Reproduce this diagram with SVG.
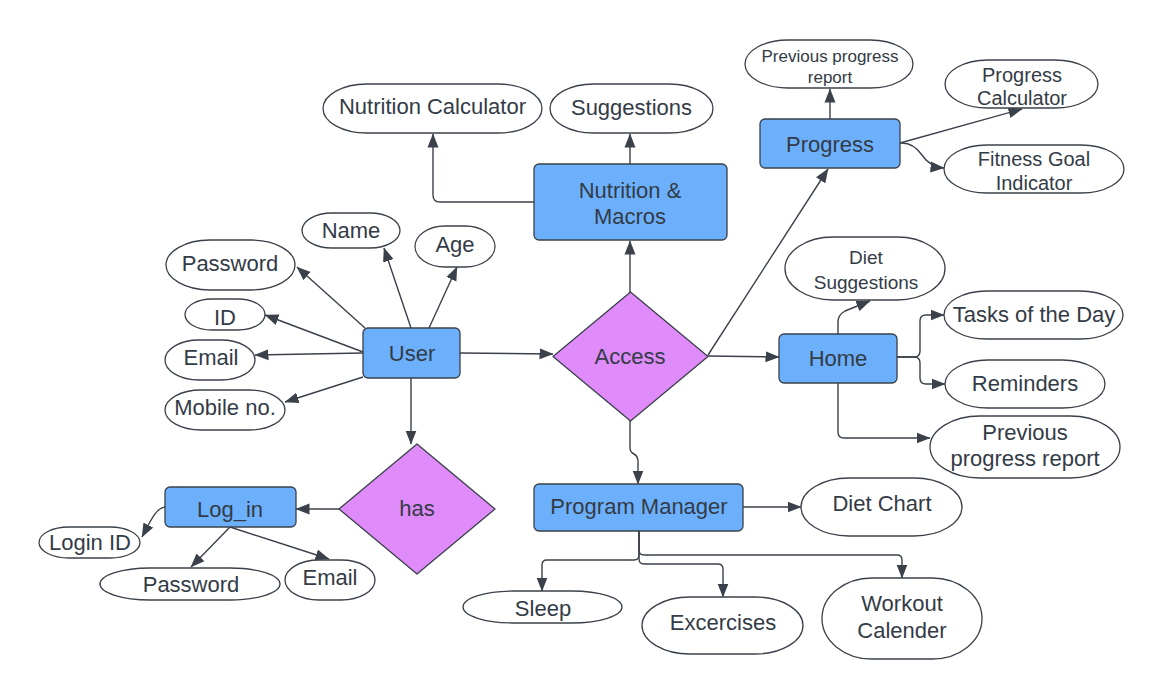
<svg xmlns="http://www.w3.org/2000/svg" width="1165" height="699" viewBox="0 0 1165 699">
<style>
text{font-family:"Liberation Sans",Arial,sans-serif;fill:#333b46;text-anchor:middle;font-size:22px}
.s{font-size:19px}.xs{font-size:17px}.m{font-size:20px}
.box{fill:#6cb0fc;stroke:#3a414a;stroke-width:1.3}
.dia{fill:#df8bf9;stroke:#3a414a;stroke-width:1.3;stroke-linejoin:round}
.ell{fill:#fff;stroke:#3a414a;stroke-width:1.3}
.c path{fill:none;stroke:#3a414a;stroke-width:1.4;marker-end:url(#a)}
</style>
<defs>
<marker id="a" viewBox="0 0 14 12" refX="13.5" refY="6" markerWidth="14" markerHeight="12" markerUnits="userSpaceOnUse" orient="auto">
<path d="M0,0.5 L14,6 L0,11.5 z" fill="#3a414a"/>
</marker>
</defs>
<rect width="1165" height="699" fill="#fff"/>
<g class="c" id="connectors">
<path d="M534,202 H440 Q433,202 433,195 V134"/>
<path d="M630,164 V134"/>
<path d="M630,292 V241"/>
<path d="M708,355 L828,169"/>
<path d="M830,119 V89"/>
<path d="M900,143 L1022,109"/>
<path d="M900,143 Q913,142 922,155 Q930,167 944,168"/>
<path d="M365,328 L297,267"/>
<path d="M411,328 L384,248"/>
<path d="M429,328 L457,267"/>
<path d="M363,352 L265,315"/>
<path d="M363,353 L255,355"/>
<path d="M363,377 L285,402"/>
<path d="M460,353 L553,354"/>
<path d="M411,378 V444"/>
<path d="M339,509 H296"/>
<path d="M165,507 C156,508 151,520 142,537"/>
<path d="M230,527 L191,567"/>
<path d="M230,527 L329,559"/>
<path d="M708,356 L779,357"/>
<path d="M838,334 V322 Q838,315 845,311 L870,301"/>
<path d="M897,357 H914 Q920,357 920,351 V321 Q920,315 926,315 H944"/>
<path d="M897,357 H914 Q920,357 920,363 V378 Q920,384 926,384 H945"/>
<path d="M838,383 V432 Q838,438 844,438 H930"/>
<path d="M630,421 V448 Q630,452 634,454 Q638,456 638,462 V484"/>
<path d="M743,507 H801"/>
<path d="M639,531 V555 Q639,560 634,560 H547 Q542,560 542,565 V591"/>
<path d="M639,531 V559 Q639,564 644,564 H718 Q723,564 723,569 V597"/>
<path d="M639,531 V550 Q639,555 644,555 H897 Q902,555 902,560 V578"/>
</g>
<g id="nutrition-calculator"><rect class="ell" x="323" y="84" width="219" height="49" rx="44" ry="24.5"/><text x="432.5" y="114">Nutrition Calculator</text></g>
<g id="suggestions"><rect class="ell" x="550" y="84" width="163" height="49" rx="44" ry="24.5"/><text x="631.5" y="115">Suggestions</text></g>
<g id="nutrition-macros"><rect class="box" x="534" y="164" width="193" height="76" rx="5"/><text x="630" y="198">Nutrition &amp;</text><text x="630" y="224">Macros</text></g>
<g id="previous-progress-top"><rect class="ell" x="745" y="40" width="168" height="48" rx="43" ry="24"/><text class="xs" x="830" y="62">Previous progress</text><text class="xs" x="830" y="83">report</text></g>
<g id="progress"><rect class="box" x="760" y="119" width="140" height="49" rx="5"/><text x="830" y="152">Progress</text></g>
<g id="progress-calculator"><rect class="ell" x="945" y="60" width="153" height="48" rx="43" ry="24"/><text class="m" x="1022" y="82">Progress</text><text class="m" x="1022" y="105">Calculator</text></g>
<g id="fitness-goal"><rect class="ell" x="944" y="145" width="180" height="48" rx="43" ry="24"/><text class="m" x="1034" y="166">Fitness Goal</text><text class="m" x="1034" y="190">Indicator</text></g>
<g id="name"><rect class="ell" x="302" y="213" width="98" height="35" rx="30" ry="17.5"/><text x="351" y="238">Name</text></g>
<g id="age"><rect class="ell" x="415" y="226" width="80" height="41" rx="30" ry="20.5"/><text x="455" y="252">Age</text></g>
<g id="password"><rect class="ell" x="166" y="240" width="129" height="50" rx="44" ry="25"/><text x="230" y="271">Password</text></g>
<g id="id"><rect class="ell" x="185" y="299" width="80" height="31" rx="27" ry="15.5"/><text x="225" y="325">ID</text></g>
<g id="email"><rect class="ell" x="165" y="340" width="90" height="40" rx="34" ry="20"/><text x="211" y="365">Email</text></g>
<g id="mobile"><rect class="ell" x="165" y="390" width="120" height="40" rx="36" ry="20"/><text x="225" y="415">Mobile no.</text></g>
<g id="user"><rect class="box" x="363" y="328" width="97" height="50" rx="5"/><text x="412" y="361">User</text></g>
<g id="access"><path class="dia" d="M630.5,292 L708,356.5 L630.5,421 L553,356.5 Z"/><text x="630" y="364">Access</text></g>
<g id="home"><rect class="box" x="779" y="334" width="118" height="49" rx="5"/><text x="838" y="366">Home</text></g>
<g id="diet-suggestions"><rect class="ell" x="785" y="237" width="160" height="63" rx="48" ry="31.5"/><text class="s" x="866" y="264">Diet</text><text class="s" x="866" y="289">Suggestions</text></g>
<g id="tasks"><rect class="ell" x="944" y="291" width="179" height="48" rx="43" ry="24"/><text x="1034" y="322">Tasks of the Day</text></g>
<g id="reminders"><rect class="ell" x="945" y="360" width="160" height="48" rx="43" ry="24"/><text x="1025" y="391">Reminders</text></g>
<g id="previous-progress-home"><rect class="ell" x="930" y="416" width="190" height="62" rx="50" ry="31"/><text x="1025" y="440">Previous</text><text x="1025" y="466">progress report</text></g>
<g id="has"><path class="dia" d="M417,444 L495,509 L417,574 L339,509 Z"/><text x="417" y="516">has</text></g>
<g id="log-in"><rect class="box" x="165" y="487" width="131" height="40" rx="5"/><text x="230" y="517">Log_in</text></g>
<g id="login-id"><rect class="ell" x="39" y="527" width="101" height="31" rx="30" ry="15.5"/><text x="90" y="550">Login ID</text></g>
<g id="password2"><rect class="ell" x="100" y="568" width="180" height="32" rx="50" ry="16"/><text x="191" y="592">Password</text></g>
<g id="email2"><rect class="ell" x="285" y="560" width="90" height="40" rx="34" ry="20"/><text x="330" y="585">Email</text></g>
<g id="program-manager"><rect class="box" x="534" y="484" width="209" height="47" rx="5"/><text x="639" y="514">Program Manager</text></g>
<g id="diet-chart"><rect class="ell" x="801" y="478" width="161" height="58" rx="48" ry="29"/><text x="882" y="511">Diet Chart</text></g>
<g id="sleep"><rect class="ell" x="463" y="591" width="159" height="32" rx="50" ry="16"/><text x="543" y="616">Sleep</text></g>
<g id="excercises"><rect class="ell" x="642" y="597" width="161" height="57" rx="48" ry="28.5"/><text x="723" y="630">Excercises</text></g>
<g id="workout-calender"><rect class="ell" x="822" y="578" width="160" height="81" rx="50" ry="40.5"/><text x="902" y="611">Workout</text><text x="902" y="638">Calender</text></g>
</svg>
